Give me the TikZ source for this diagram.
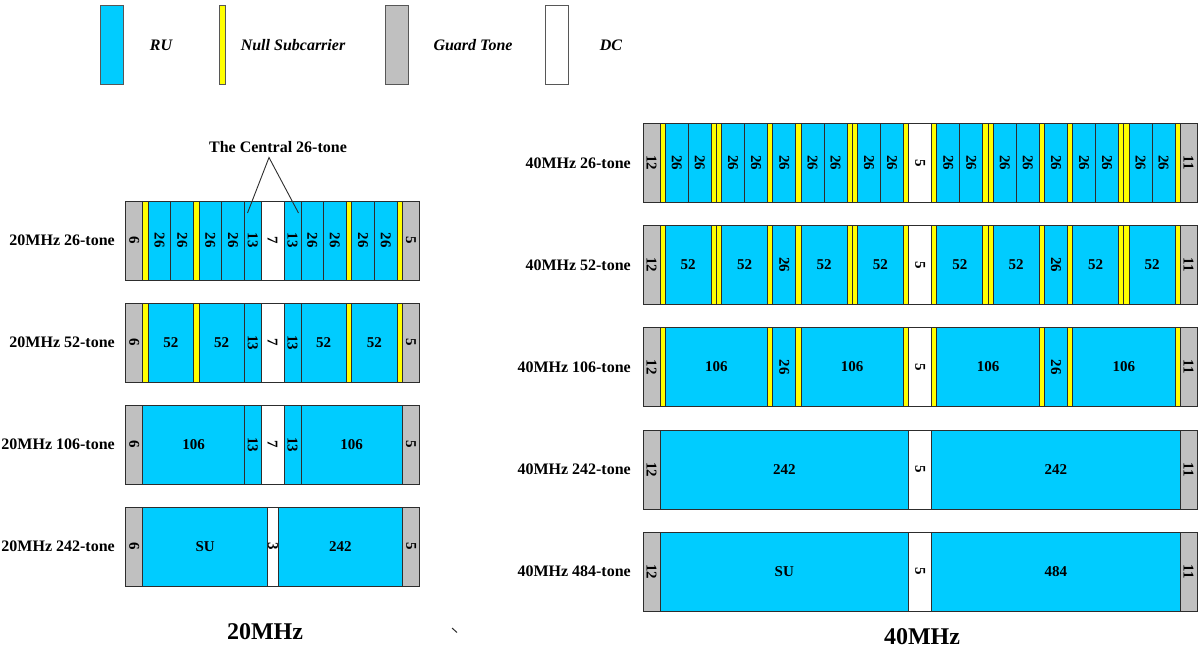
\documentclass[tikz,border=0pt]{standalone}
\usepackage{fontspec}
\setmainfont{Liberation Serif}
\definecolor{ruc}{RGB}{0,204,255}
\definecolor{grayc}{RGB}{192,192,192}
\definecolor{nullc}{RGB}{255,255,0}
\definecolor{linec}{RGB}{45,45,45}
\tikzset{
  seglbl/.style={font=\fontsize{15}{16}\selectfont\bfseries, inner sep=0pt},
  rowlbl/.style={font=\fontsize{16}{18}\selectfont\bfseries, anchor=east, inner sep=0pt},
  leglbl/.style={font=\fontsize{16}{18}\selectfont\bfseries\itshape, inner sep=0pt},
  titlelbl/.style={font=\fontsize{24}{26}\selectfont\bfseries, inner sep=0pt},
  legbox/.style={draw=linec!80, line width=1pt},
}
% #1 = left x, #2 = top y, #3 = bottom y, #4 = list width/fill/label/rotation
\newcommand\tonebar[4]{%
  \gdef\curx{#1}%
  \foreach \w/\s/\l/\r in {#4}{%
    \pgfmathsetmacro\nx{\curx+\w}%
    \filldraw[fill=\s, draw=linec, line width=0.8pt] (\curx,#2) rectangle (\nx,#3);
    \pgfmathsetmacro\mx{(\curx+\nx)/2}%
    \node[seglbl, rotate=\r] at (\mx,{(#2+#3)/2}) {\l};
    \global\let\curx\nx
  }%
}
\begin{document}
\begin{tikzpicture}[x=1pt,y=-1pt]
\useasboundingbox (0,0) rectangle (1199,652);

% legend
\filldraw[legbox, fill=ruc] (100,6) rectangle (123,85);
\node[leglbl] (lru) at (161,45) {RU};
\filldraw[legbox, fill=nullc] (219,6) rectangle (225,85);
\node[leglbl] (lnull) at (293,45) {Null Subcarrier};
\filldraw[legbox, fill=grayc] (385,6) rectangle (408,85);
\node[leglbl] (lguard) at (473,45) {Guard Tone};
\filldraw[legbox, fill=white] (545,6) rectangle (568,85);
\node[leglbl] (ldc) at (611,45) {DC};

% ---------- 20 MHz ----------
\tonebar{125.7}{201}{280}{17/grayc/6/-90, 5.5/nullc//0, 22.65/ruc/26/-90, 22.65/ruc/26/-90, 5.5/nullc//0, 22.65/ruc/26/-90, 22.65/ruc/26/-90, 17/ruc/13/-90, 22.6/white/7/-90, 17/ruc/13/-90, 22.65/ruc/26/-90, 22.65/ruc/26/-90, 5.5/nullc//0, 22.65/ruc/26/-90, 22.65/ruc/26/-90, 5.5/nullc//0, 17/grayc/5/-90}
\tonebar{125.7}{303}{382}{17/grayc/6/-90, 5.5/nullc//0, 45.3/ruc/52/0, 5.5/nullc//0, 45.3/ruc/52/0, 17/ruc/13/-90, 22.6/white/7/-90, 17/ruc/13/-90, 45.3/ruc/52/0, 5.5/nullc//0, 45.3/ruc/52/0, 5.5/nullc//0, 17/grayc/5/-90}
\tonebar{125.7}{405}{484}{17/grayc/6/-90, 101.6/ruc/106/0, 17/ruc/13/-90, 22.6/white/7/-90, 17/ruc/13/-90, 101.6/ruc/106/0, 17/grayc/5/-90}
\tonebar{125.7}{507}{586}{17/grayc/6/-90, 125/ruc/SU/0, 10.6/white/3/-90, 124.3/ruc/242/0, 17/grayc/5/-90}

\node[rowlbl] (r201) at (115,240.5) {20MHz 26-tone};
\node[rowlbl] (r202) at (115,342.5) {20MHz 52-tone};
\node[rowlbl] (r203) at (115,444.5) {20MHz 106-tone};
\node[rowlbl] (r204) at (115,546.5) {20MHz 242-tone};

% central 26-tone annotation
\node[leglbl, font=\fontsize{16}{18}\selectfont\bfseries] (ct) at (278,147) {The Central 26-tone};
\coordinate (apex) at (269,157.5);
\coordinate (cl) at (247.5,213);
\coordinate (cr) at (298.5,213);
\draw[linec, line width=0.9pt] (cl) -- (apex) -- (cr);

\node[titlelbl] (t20) at (265,632) {20MHz};

% ---------- 40 MHz ----------
\tonebar{643.3}{123.3}{202.3}{16.7/grayc/12/-90, 5.2/nullc//0, 23/ruc/26/-90, 23/ruc/26/-90, 5.2/nullc//0, 5.2/nullc//0, 23/ruc/26/-90, 23/ruc/26/-90, 5.2/nullc//0, 23/ruc/26/-90, 5.2/nullc//0, 23/ruc/26/-90, 23/ruc/26/-90, 5.2/nullc//0, 5.2/nullc//0, 23/ruc/26/-90, 23/ruc/26/-90, 5.2/nullc//0, 23/white/5/-90, 5.2/nullc//0, 23/ruc/26/-90, 23/ruc/26/-90, 5.2/nullc//0, 5.2/nullc//0, 23/ruc/26/-90, 23/ruc/26/-90, 5.2/nullc//0, 23/ruc/26/-90, 5.2/nullc//0, 23/ruc/26/-90, 23/ruc/26/-90, 5.2/nullc//0, 5.2/nullc//0, 23/ruc/26/-90, 23/ruc/26/-90, 5.2/nullc//0, 16.7/grayc/11/-90}
\tonebar{643.3}{225.5}{304.5}{16.7/grayc/12/-90, 5.2/nullc//0, 46/ruc/52/0, 5.2/nullc//0, 5.2/nullc//0, 46/ruc/52/0, 5.2/nullc//0, 23/ruc/26/-90, 5.2/nullc//0, 46/ruc/52/0, 5.2/nullc//0, 5.2/nullc//0, 46/ruc/52/0, 5.2/nullc//0, 23/white/5/-90, 5.2/nullc//0, 46/ruc/52/0, 5.2/nullc//0, 5.2/nullc//0, 46/ruc/52/0, 5.2/nullc//0, 23/ruc/26/-90, 5.2/nullc//0, 46/ruc/52/0, 5.2/nullc//0, 5.2/nullc//0, 46/ruc/52/0, 5.2/nullc//0, 16.7/grayc/11/-90}
\tonebar{643.3}{327.5}{406.5}{16.7/grayc/12/-90, 5.2/nullc//0, 102.4/ruc/106/0, 5.2/nullc//0, 23/ruc/26/-90, 5.2/nullc//0, 102.4/ruc/106/0, 5.2/nullc//0, 23/white/5/-90, 5.2/nullc//0, 102.4/ruc/106/0, 5.2/nullc//0, 23/ruc/26/-90, 5.2/nullc//0, 102.4/ruc/106/0, 5.2/nullc//0, 16.7/grayc/11/-90}
\tonebar{643.3}{430}{509}{16.7/grayc/12/-90, 248.6/ruc/242/0, 23/white/5/-90, 248.6/ruc/242/0, 16.7/grayc/11/-90}
\tonebar{643.3}{532}{611}{16.7/grayc/12/-90, 248.6/ruc/SU/0, 23/white/5/-90, 248.6/ruc/484/0, 16.7/grayc/11/-90}

\node[rowlbl] (r401) at (631,162.8) {40MHz 26-tone};
\node[rowlbl] (r402) at (631,265) {40MHz 52-tone};
\node[rowlbl] (r403) at (631,367) {40MHz 106-tone};
\node[rowlbl] (r404) at (631,469.5) {40MHz 242-tone};
\node[rowlbl] (r405) at (631,571.5) {40MHz 484-tone};

\node[titlelbl] (t40) at (922,637) {40MHz};

% stray mark
\coordinate (ma) at (452,628);
\coordinate (mb) at (457,632.5);
\draw[linec, line width=1pt] (ma) -- (mb);
\end{tikzpicture}
\end{document}
